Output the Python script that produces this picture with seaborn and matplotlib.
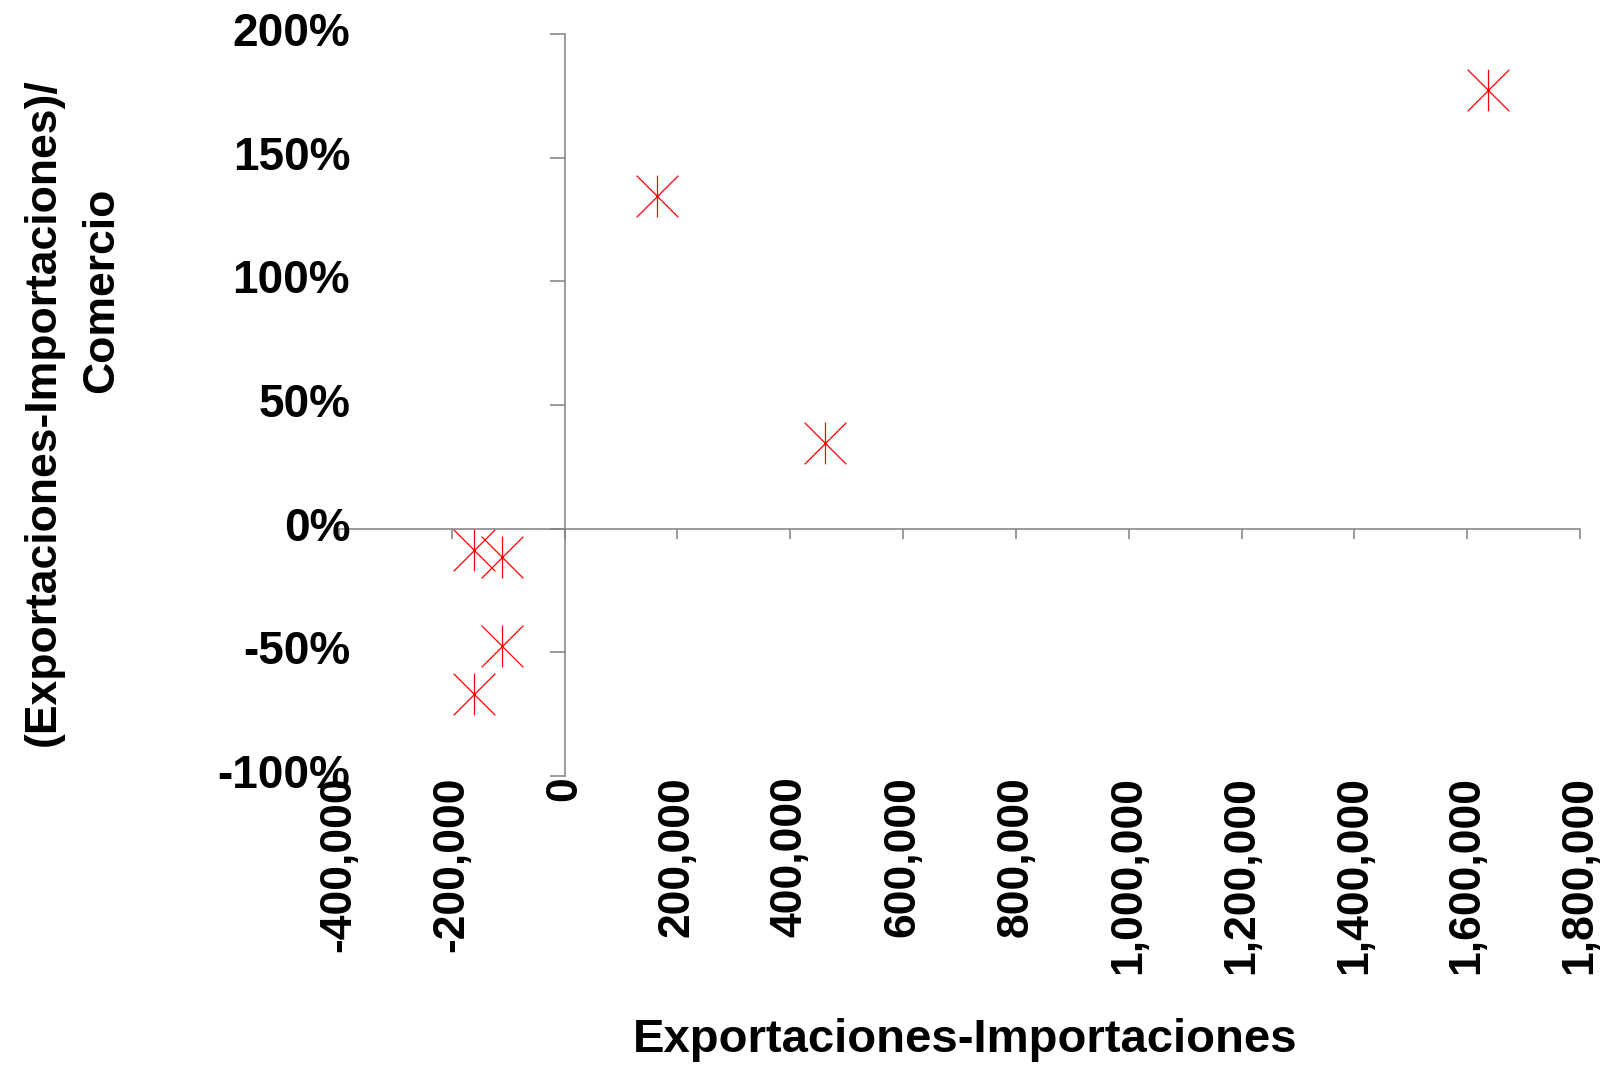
import numpy as np
import pandas as pd
import matplotlib
matplotlib.use("Agg")
import matplotlib.pyplot as plt
import seaborn as sns
from matplotlib.path import Path

# Trade balance (exports - imports) vs normalised balance
balance = [-161000, -111900, -111900, -161000, 164000, 461900, 1636900]
ratio = [-0.085, -0.114, -0.474, -0.668, 1.343, 0.345, 1.773]

x_ticks = [-400000, -200000, 0, 200000, 400000, 600000, 800000,
           1000000, 1200000, 1400000, 1600000, 1800000]
x_tick_labels = ["-400,000", "-200,000", "0", "200,000", "400,000", "600,000",
                 "800,000", "1,000,000", "1,200,000", "1,400,000",
                 "1,600,000", "1,800,000"]
y_ticks = [-1.0, -0.5, 0.0, 0.5, 1.0, 1.5, 2.0]
y_tick_labels = ["-100%", "-50%", "0%", "50%", "100%", "150%", "200%"]

x_label = "Exportaciones-Importaciones"
y_label_1 = "(Exportaciones-Importaciones)/"
y_label_2 = "Comercio"

df = pd.DataFrame({"balance": balance, "ratio": ratio})

sns.set_style("ticks")
plt.rcParams["font.family"] = ["Liberation Sans", "DejaVu Sans"]
plt.rcParams["text.color"] = "black"

W, H = 1606, 1070
fig = plt.figure(figsize=(W / 100, H / 100), dpi=100)
ax = fig.add_axes([339 / W, 1 - 776 / H, (1580 - 339) / W, (776 - 34) / H])

# asterisk marker: X plus a vertical bar
star = Path([(-1, -1), (1, 1), (-1, 1), (1, -1), (0, -1), (0, 1)],
            [Path.MOVETO, Path.LINETO] * 3)
sns.scatterplot(data=df, x="balance", y="ratio", marker=star, s=900,
                color="#ff0000", edgecolor="#ff0000", linewidth=0.9, ax=ax,
                legend=False)

ax.set_xlim(-400000, 1800000)
ax.set_ylim(-1.0, 2.0)
ax.set_xticks(x_ticks)
ax.set_yticks(y_ticks)

# axes cross at zero
ax.spines["left"].set_position(("data", 0))
ax.spines["bottom"].set_position(("data", 0))
ax.spines["top"].set_visible(False)
ax.spines["right"].set_visible(False)
for s in ["left", "bottom"]:
    ax.spines[s].set_color("#808080")
    ax.spines[s].set_linewidth(1.1)

ax.tick_params(axis="x", direction="out", length=7, width=1.1, color="#808080",
               bottom=True, labelbottom=False)
ax.tick_params(axis="y", direction="out", length=11, width=1.1, color="#808080",
               left=True, labelleft=False)
ax.set_xlabel("")
ax.set_ylabel("")

# tick labels sit at the low edge of the plot
for xv, lab in zip(x_ticks, x_tick_labels):
    ax.text(xv, -1.0, lab, rotation=90, ha="center", va="top",
            fontsize=32, fontweight="bold", color="black", clip_on=False)
for yv, lab in zip(y_ticks, y_tick_labels):
    ax.text(0.009, yv, lab, transform=ax.get_yaxis_transform(),
            ha="right", va="center", fontsize=33, fontweight="bold",
            color="black", clip_on=False)

fig.text(965 / W, 1 - 1040 / H, x_label, ha="center", va="center",
         fontsize=34, fontweight="bold", color="black")
fig.text(43 / W, 1 - 412 / H, y_label_1, ha="center", va="center",
         rotation=90, fontsize=32, fontweight="bold", color="black")
fig.text(102 / W, 1 - 290 / H, y_label_2, ha="center", va="center",
         rotation=90, fontsize=32, fontweight="bold", color="black")

fig.savefig("out.png", dpi=100)
